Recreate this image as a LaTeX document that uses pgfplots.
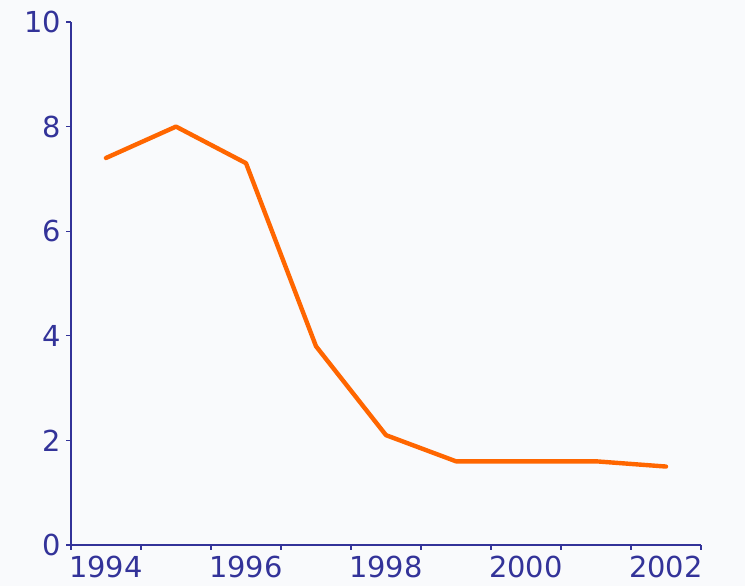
\documentclass[border=0pt]{standalone}
\usepackage{fontspec}
\setmainfont{DejaVu Sans}
\usepackage{pgfplots}
\pgfplotsset{compat=1.18}
\definecolor{bg}{RGB}{249,250,252}
\definecolor{txt}{RGB}{51,51,153}
\definecolor{ln}{RGB}{255,102,0}
\pgfplotstableread{
year val
1994 7.4
1995 8.0
1996 7.3
1997 3.8
1998 2.1
1999 1.6
2000 1.6
2001 1.6
2002 1.5
}\datatable
\begin{document}
\begin{tikzpicture}
\useasboundingbox (0,0) rectangle (745bp,586bp);
\fill[bg] (0,0) rectangle (745bp,586bp);
\begin{axis}[
  at={(71bp,41bp)}, anchor=south west,
  scale only axis, width=630bp, height=523bp,
  xmin=1993.5, xmax=2002.5, ymin=0, ymax=10,
  axis lines=left, axis line style={-, txt, line width=1.2bp},
  xtick={1993.5,1994.5,...,2002.5}, xticklabels={},
  extra x ticks={1994,1996,1998,2000,2002},
  extra x tick style={major tick length=0pt, tick style={draw=none}},
  extra x tick labels={1994,1996,1998,2000,2002},
  ytick={0,2,...,10},
  tick align=outside, major tick length=5bp,
  tick style={txt, line width=1.2bp},
  /pgf/number format/assume math mode=true,
  ticklabel style={font=\fontsize{29}{34}\selectfont, text=txt},
  yticklabel style={inner sep=2bp, xshift=-3bp},
  xticklabel style={inner sep=0bp, yshift=-11bp},
  clip=false,
]
\addplot[ln, line width=4.4bp, line join=round, line cap=round] table[x=year, y=val] {\datatable};
\end{axis}
\end{tikzpicture}
\end{document}
